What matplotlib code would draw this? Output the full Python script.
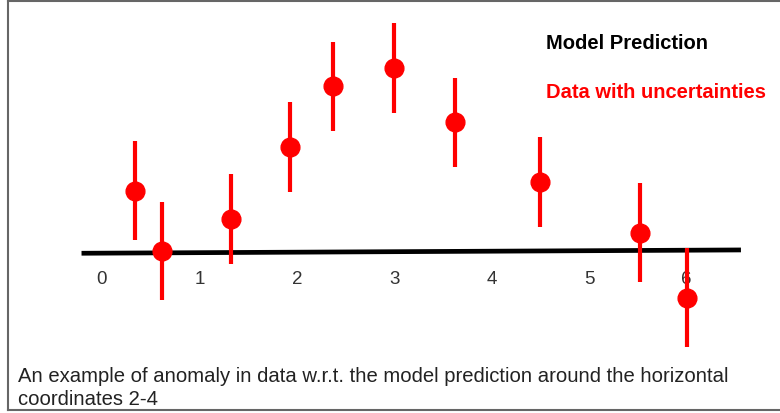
import matplotlib
matplotlib.use('Agg')
import matplotlib.pyplot as plt
from matplotlib.lines import Line2D

plt.rcParams['font.family'] = ['Liberation Sans', 'DejaVu Sans']

# data
x_data = [0.34, 0.62, 1.32, 1.93, 2.37, 3.00, 3.62, 4.50, 5.52, 6.01]
y_data = [0.63, 0.01, 0.34, 1.08, 1.70, 1.89, 1.33, 0.72, 0.20, -0.47]
y_err = [0.51, 0.50, 0.46, 0.46, 0.46, 0.46, 0.46, 0.46, 0.51, 0.51]

# model prediction (nearly flat line)
model_x = [-0.21, 6.56]
model_y = [-0.013, 0.021]

xticks = [0, 1, 2, 3, 4, 5, 6]

caption = ("An example of anomaly in data w.r.t. the model prediction around the horizontal\n"
           "coordinates 2-4")

fig = plt.figure(figsize=(7.8, 4.13), dpi=100)
ax = fig.add_axes([0, 0, 1, 1])
ax.set_xlim(-1.047, 6.961)
ax.set_ylim(-1.653, 2.587)

ax.plot(model_x, model_y, color='black', lw=3.4, solid_capstyle='butt', zorder=2)
ax.errorbar(x_data, y_data, yerr=y_err, fmt='o', color='#ff0000', ms=13.5,
            elinewidth=3, capsize=0, zorder=3)

# x axis labels only, no ticks or spines
for s in ax.spines.values():
    s.set_visible(False)
ax.spines['bottom'].set_position(('data', 0))
ax.set_xticks(xticks)
ax.set_xticklabels([str(t) for t in xticks])
ax.tick_params(axis='x', length=0, pad=14, labelsize=13.5, labelcolor='#333333')
ax.set_yticks([])

# legend-like labels
ax.text(0.70, 0.895, 'Model Prediction', transform=ax.transAxes, fontsize=14.5,
        fontweight='bold', color='black', va='center', ha='left')
ax.text(0.70, 0.777, 'Data with uncertainties', transform=ax.transAxes, fontsize=14.5,
        fontweight='bold', color='#ff0000', va='center', ha='left')

# caption
fig.text(0.023, 0.06, caption, fontsize=14.6, color='#222222', va='center',
         ha='left', linespacing=1.25)

# frame around the picture (no right edge)
frame = dict(color='#666666', lw=1.5)
fig.add_artist(Line2D([0.010, 1.0], [0.997, 0.997], **frame))
fig.add_artist(Line2D([0.010, 0.010], [0.007, 0.997], **frame))
fig.add_artist(Line2D([0.010, 1.0], [0.007, 0.007], **frame))

fig.savefig('out.png', dpi=100)
